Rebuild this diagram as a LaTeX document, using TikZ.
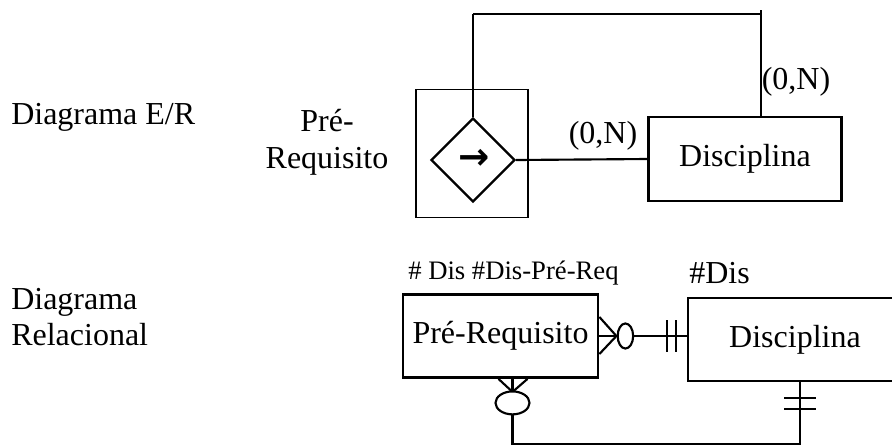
\documentclass[tikz,border=0pt]{standalone}
\usepackage{fontspec}
\setmainfont{Liberation Serif}
\newfontfamily\arrowfont{DejaVu Sans}
\usetikzlibrary{shapes.geometric,calc}
\begin{document}
\begin{tikzpicture}[x=0.75pt,y=-0.75pt,
  lbl/.style={font=\fontsize{24}{28}\selectfont, inner sep=0pt},
  smalllbl/.style={font=\fontsize{20}{24}\selectfont, inner sep=0pt},
  ent/.style={draw, line width=2.1pt, inner sep=0pt, font=\fontsize{24}{28}\selectfont},
  conn/.style={line width=1.6pt},
]
\useasboundingbox (0,0) rectangle (892,444);
\begin{scope}
\clip (0,0) rectangle (892,444);
% ---------- E/R diagram ----------
\node[ent, minimum width=144.75pt, minimum height=63pt] (dis1) at (745,159) {Disciplina};
\node[draw, line width=1.4pt, minimum width=83.5pt, minimum height=96pt, inner sep=0pt] (sq) at (472,153.5) {};
\node[diamond, draw, line width=1.7pt, minimum width=63pt, minimum height=63pt, inner sep=0pt] (rel) at (473,160) {};
\node[inner sep=0pt, font=\arrowfont\bfseries\fontsize{28}{30}\selectfont] (arr) at (474,159) {→};
\coordinate (top) at (761,14);
\coordinate (topstart) at (761,10);
\draw[line width=2.1pt] (rel.north |- top) -- (top);
\draw[conn] (rel.north) -- (rel.north |- top);
\draw[conn] (topstart) -- (topstart |- dis1.north);
\draw[conn] (rel.east) -- (dis1.west);
\node[lbl, anchor=base west] (t1) at (11,124) {Diagrama E/R};
\node[lbl, anchor=base] (t2) at (327,131) {Pré-};
\node[lbl, anchor=base] (t3) at (327,168) {Requisito};
\node[lbl, anchor=base] (c1) at (603,143) {(0,N)};
\node[lbl, anchor=base] (c2) at (796,89) {(0,N)};
% ---------- relational diagram ----------
\node[lbl, anchor=base west] (t4) at (11,309) {Diagrama};
\node[lbl, anchor=base west] (t5) at (11,345) {Relacional};
\node[smalllbl, anchor=base west] (k1) at (408,279) {\# Dis \#Dis-Pré-Req};
\node[lbl, anchor=base west] (k2) at (689,283) {\#Dis};
\node[ent, minimum width=146.25pt, minimum height=62.25pt] (pr) at (500.5,336) {Pré-Requisito};
\node[ent, minimum width=160.5pt, minimum height=62.25pt] (dis2) at (795,339.5) {Disciplina};
% right connector
\coordinate (j) at (pr.east -| dis2.west);
\draw[conn] (pr.east) -- (j);
\draw[conn] ($(pr.east)+(0,-19)$) -- ($(pr.east)+(17,0)$) -- ($(pr.east)+(0,18)$);
\draw[conn, fill=white] ($(pr.east)+(26,0)$) ellipse [x radius=5.8pt, y radius=9.4pt];
\draw[conn] ($(j)+(-20,-16)$) -- ++(0,32);
\draw[conn] ($(j)+(-11,-16)$) -- ++(0,32);
% bottom connector
\coordinate (pb) at ($(pr.south)+(12,0)$);
\coordinate (db) at ($(dis2.south)+(5,0)$);
\draw[conn] (pb) -- ++(0,65) -| (db);
\draw[conn] ($(pb)+(-14,0)$) -- ($(pb)+(0,13)$) -- ($(pb)+(15,0)$);
\draw[conn, fill=white] ($(pb)+(0,24)$) ellipse [x radius=12.75pt, y radius=8.6pt];
\draw[conn] ($(db)+(-16,16)$) -- ++(32,0);
\draw[conn] ($(db)+(-16,27)$) -- ++(32,0);
\end{scope}
\end{tikzpicture}
\end{document}
